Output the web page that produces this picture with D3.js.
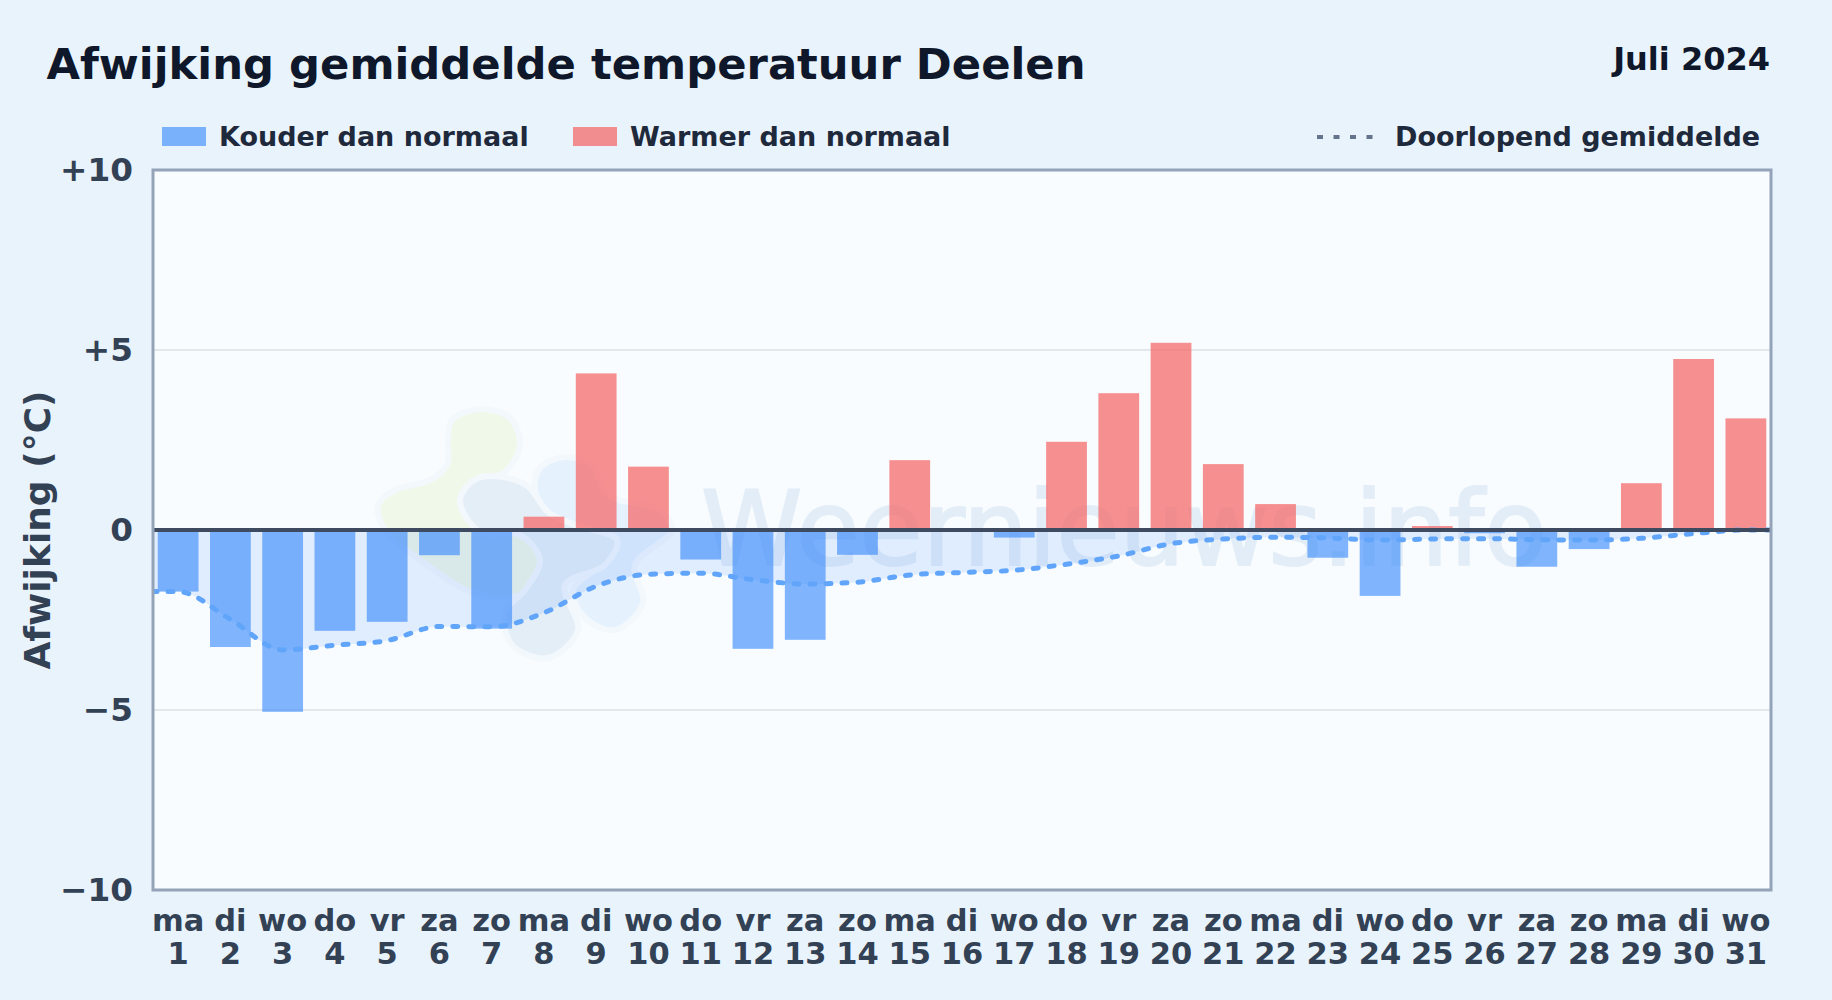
<!DOCTYPE html>
<html>
<head>
<meta charset="utf-8">
<title>Afwijking gemiddelde temperatuur Deelen</title>
<script src="https://cdn.jsdelivr.net/npm/d3@7"></script>
<style>
  html, body { margin: 0; padding: 0; background: #e8f3fc; }
  svg { display: block; font-family: "DejaVu Sans", sans-serif; }
</style>
</head>
<body>
<div id="chart"></div>
<script>
// Data
const days = d3.range(1, 32);
const weekdays = ['ma','di','wo','do','vr','za','zo','ma','di','wo','do','vr','za','zo','ma','di','wo','do','vr','za','zo','ma','di','wo','do','vr','za','zo','ma','di','wo'];
const deviation = [-1.71,-3.25,-5.05,-2.8,-2.55,-0.7,-2.74,0.37,4.35,1.76,-0.82,-3.3,-3.05,-0.69,1.94,0,-0.21,2.45,3.8,5.2,1.83,0.72,-0.77,-1.83,0.11,-0.09,-1.02,-0.53,1.3,4.75,3.1];
const running = [-1.71,-2.48,-3.33,-3.2,-3.07,-2.68,-2.69,-2.3,-1.56,-1.23,-1.2,-1.38,-1.5,-1.45,-1.25,-1.18,-1.12,-0.95,-0.72,-0.38,-0.25,-0.2,-0.22,-0.28,-0.25,-0.24,-0.27,-0.28,-0.23,-0.1,0];
const yTicks = [10, 5, 0, -5, -10];
const yTickLabels = ['+10', '+5', '0', '\u22125', '\u221210'];
const gridValues = [5, -5];

// Watermark logo outline (decoration, page pixels)
const logoBlobs = [
  { fill: '#ecf6dc', points: [[448,440],[452,420],[480,409],[510,418],[520,445],[505,472],[478,484],[555,525],[565,560],[540,590],[480,595],[420,560],[385,530],[378,505],[395,490],[430,480],[447,465]] },
  { fill: '#d9ebfc', points: [[535,490],[540,468],[565,457],[592,465],[608,495],[660,510],[672,530],[635,565],[643,603],[615,630],[585,618],[573,590],[600,565],[617,540],[575,525],[548,512]] },
  { fill: '#d8e5f3', points: [[460,500],[478,478],[525,484],[548,512],[575,525],[617,540],[605,565],[565,585],[578,630],[548,658],[512,645],[505,612],[525,590],[540,560],[520,535],[480,532]] }
];

const width = 1832, height = 1000;
const plot = { left: 153, right: 1771, top: 170, bottom: 890 };

const svg = d3.select('#chart').append('svg')
  .attr('width', width)
  .attr('height', height);

svg.append('rect').attr('width', width).attr('height', height).attr('fill', '#e8f3fc');

svg.append('clipPath').attr('id', 'plotClip').append('rect')
  .attr('x', plot.left).attr('y', plot.top)
  .attr('width', plot.right - plot.left).attr('height', plot.bottom - plot.top);

const x = d3.scaleBand().domain(days).range([152, 1772]).paddingInner(0.22).paddingOuter(0.11);
const xDay = d3.scaleLinear().domain([0.5, 31.5]).range([152, 1772]);
const y = d3.scaleLinear().domain([-10, 10]).range([plot.bottom, plot.top]);

// Plot background
svg.append('rect')
  .attr('x', plot.left).attr('y', plot.top)
  .attr('width', plot.right - plot.left).attr('height', plot.bottom - plot.top)
  .attr('fill', '#f8fcff');

// Watermark
const wm = svg.append('g').attr('opacity', 0.6);
const blobLine = d3.line().curve(d3.curveCatmullRomClosed.alpha(0.5));
logoBlobs.forEach(b => {
  wm.append('path')
    .attr('d', blobLine(b.points))
    .attr('fill', b.fill)
    .attr('stroke', '#f0f7fd')
    .attr('stroke-width', 6);
});
wm.append('text')
  .attr('x', 701).attr('y', 565)
  .attr('font-size', 102.6)
  .attr('font-family', '"DejaVu Sans", sans-serif')
  .attr('fill', '#d4e4f3')
  .attr('stroke', '#d4e4f3')
  .attr('stroke-width', 2)
  .text('Weernieuws.info');

// Grid
svg.append('g').selectAll('line')
  .data(gridValues)
  .join('line')
  .attr('x1', plot.left).attr('x2', plot.right)
  .attr('y1', d => y(d)).attr('y2', d => y(d))
  .attr('stroke', '#e2e8ec')
  .attr('stroke-width', 2);

// Running mean points, held flat out to the plot edges
const runningPoints = [[0.5, running[0]]]
  .concat(running.map((v, i) => [days[i], v]))
  .concat([[31.5, running[running.length - 1]]]);

// Area between zero and the running mean
svg.append('path')
  .attr('clip-path', 'url(#plotClip)')
  .attr('d', d3.area()
    .x(d => xDay(d[0]))
    .y0(y(0))
    .y1(d => y(d[1]))
    .curve(d3.curveMonotoneX)(runningPoints))
  .attr('fill', '#3b82f6')
  .attr('fill-opacity', 0.12);

// Bars
svg.append('g').selectAll('rect')
  .data(deviation)
  .join('rect')
  .attr('x', (d, i) => x(days[i]))
  .attr('width', x.bandwidth())
  .attr('y', d => y(Math.max(d, 0)))
  .attr('height', d => Math.abs(y(d) - y(0)))
  .attr('fill', d => d < 0 ? '#3b8bfa' : '#f56565')
  .attr('fill-opacity', d => d < 0 ? 0.64 : 0.72);

// Running mean line
svg.append('path')
  .attr('clip-path', 'url(#plotClip)')
  .attr('d', d3.line()
    .x(d => xDay(d[0]))
    .y(d => y(d[1]))
    .curve(d3.curveMonotoneX)(runningPoints))
  .attr('fill', 'none')
  .attr('stroke', '#60a5fa')
  .attr('stroke-width', 5)
  .attr('stroke-linecap', 'round')
  .attr('stroke-dasharray', '5 11');

// Zero line
svg.append('line')
  .attr('x1', plot.left).attr('x2', plot.right)
  .attr('y1', y(0)).attr('y2', y(0))
  .attr('stroke', '#3d4a5f')
  .attr('stroke-width', 4);

// Plot border
svg.append('rect')
  .attr('x', plot.left).attr('y', plot.top)
  .attr('width', plot.right - plot.left).attr('height', plot.bottom - plot.top)
  .attr('fill', 'none')
  .attr('stroke', '#94a3b8')
  .attr('stroke-width', 3);

// Y axis
const yAxis = svg.append('g')
  .attr('transform', `translate(${plot.left},0)`)
  .call(d3.axisLeft(y).tickValues(yTicks).tickSize(0).tickPadding(20)
    .tickFormat(d => yTickLabels[yTicks.indexOf(d)]));
yAxis.select('.domain').remove();
yAxis.selectAll('text')
  .attr('font-family', '"DejaVu Sans", sans-serif')
  .attr('font-size', 32.7).attr('font-weight', 'bold').attr('fill', '#334155');

// X axis, weekday above day number
const xAxis = svg.append('g')
  .attr('transform', `translate(0,${plot.bottom})`)
  .call(d3.axisBottom(x).tickSize(0).tickPadding(0).tickFormat(d => weekdays[d - 1]));
xAxis.select('.domain').remove();
xAxis.selectAll('text')
  .attr('font-family', '"DejaVu Sans", sans-serif')
  .attr('font-size', 30.5).attr('font-weight', 'bold').attr('fill', '#334155')
  .attr('y', 41).attr('dy', 0);
xAxis.selectAll('.tick').append('text')
  .attr('y', 74)
  .attr('text-anchor', 'middle')
  .attr('font-family', '"DejaVu Sans", sans-serif')
  .attr('font-size', 30.5).attr('font-weight', 'bold').attr('fill', '#334155')
  .text(d => d);

// Y axis title
svg.append('text')
  .attr('transform', `translate(50,${y(0)}) rotate(-90)`)
  .attr('text-anchor', 'middle')
  .attr('font-size', 36).attr('font-weight', 'bold').attr('fill', '#334155')
  .text('Afwijking (\u00b0C)');

// Title
svg.append('text')
  .attr('x', 46.5).attr('y', 79)
  .attr('font-size', 43.3).attr('font-weight', 'bold').attr('fill', '#0f172a')
  .text('Afwijking gemiddelde temperatuur Deelen');
svg.append('text')
  .attr('x', 1770).attr('y', 70)
  .attr('text-anchor', 'end')
  .attr('font-size', 32).attr('font-weight', 'bold').attr('fill', '#0f172a')
  .text('Juli 2024');

// Legend
const legendSwatches = [
  { x: 162, fill: '#3b8bfa', opacity: 0.64, label: 'Kouder dan normaal', tx: 219 },
  { x: 573, fill: '#f56565', opacity: 0.72, label: 'Warmer dan normaal', tx: 630 }
];
legendSwatches.forEach(l => {
  svg.append('rect')
    .attr('x', l.x).attr('y', 127).attr('width', 44).attr('height', 19)
    .attr('fill', l.fill).attr('fill-opacity', l.opacity);
  svg.append('text')
    .attr('x', l.tx).attr('y', 146)
    .attr('font-size', 27).attr('font-weight', 'bold').attr('fill', '#1e293b')
    .text(l.label);
});
svg.append('line')
  .attr('x1', 1317).attr('x2', 1373).attr('y1', 137).attr('y2', 137)
  .attr('stroke', '#64748b').attr('stroke-width', 4)
  .attr('stroke-dasharray', '6 10.5');
svg.append('text')
  .attr('x', 1395).attr('y', 146)
  .attr('font-size', 27).attr('font-weight', 'bold').attr('fill', '#1e293b')
  .text('Doorlopend gemiddelde');
</script>
</body>
</html>
